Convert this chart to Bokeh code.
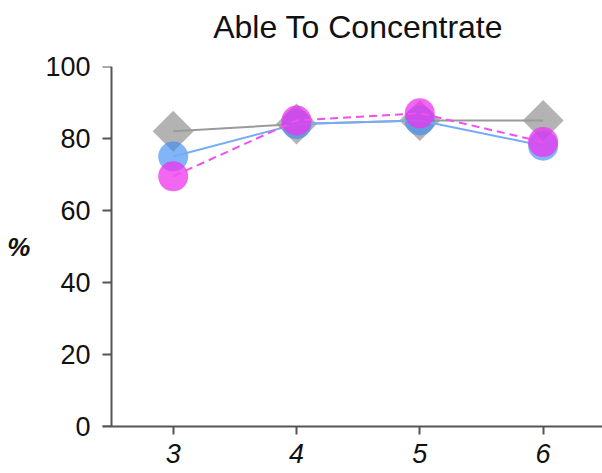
from bokeh.plotting import figure
from bokeh.models import LinearAxis, FixedTicker, Range1d, ColumnDataSource
from bokeh.embed import file_html
from bokeh.resources import INLINE
import numpy as np

# ---- data ----
grades = [3, 4, 5, 6]
tick_labels = ["3", "4", "5", "6"]
gray_vals = [82, 84, 85, 85]
blue_vals = [75, 84, 85, 78]
magenta_vals = [69.5, 85, 87, 79]
y_ticks = [0, 20, 40, 60, 80, 100]
title_text = "Able To Concentrate"
y_label = "%"

FONT = "Liberation Sans"

p = figure(width=602, height=473, output_backend="svg", toolbar_location=None,
           x_range=Range1d(2.4266, 6.4817), y_range=Range1d(0, 100),
           min_border_left=102, min_border_right=0, min_border_top=66, min_border_bottom=47,
           title=None)
p.outline_line_color = None
p.grid.visible = False
p.background_fill_color = "white"
p.border_fill_color = "white"

# x axis (the default one, below)
xa = p.below[0]
xa.ticker = FixedTicker(ticks=grades)
xa.major_label_overrides = {g: t for g, t in zip(grades, tick_labels)}
xa.major_label_text_font = FONT
xa.major_label_text_font_size = "27px"
xa.major_label_text_font_style = "italic"
xa.major_label_text_color = "#111111"
xa.major_label_standoff = 9
xa.major_tick_out = 8
xa.major_tick_in = 0
xa.minor_tick_out = 0
xa.minor_tick_in = 0
xa.axis_line_color = "#555555"
xa.axis_line_width = 2
xa.major_tick_line_color = "#555555"
xa.major_tick_line_width = 2

# y axis: labels only, at frame edge (the default one, left)
ya = p.left[0]
ya.ticker = FixedTicker(ticks=y_ticks)
ya.major_label_text_font = FONT
ya.major_label_text_font_size = "27px"
ya.major_label_text_color = "#111111"
ya.major_tick_out = 0
ya.major_tick_in = 0
ya.minor_tick_out = 0
ya.minor_tick_in = 0
ya.axis_line_color = None
ya.major_label_standoff = 12
ya.axis_label = y_label
ya.axis_label_orientation = "horizontal"
ya.axis_label_text_font = FONT
ya.axis_label_text_font_size = "26px"
ya.axis_label_text_font_style = "bold italic"
ya.axis_label_text_color = "#111111"
ya.axis_label_standoff = 12

# y axis line + ticks at a fixed location
ya2 = LinearAxis(fixed_location=2.5, ticker=FixedTicker(ticks=y_ticks))
ya2.major_label_text_font_size = "0px"
ya2.major_label_text_alpha = 0
ya2.major_tick_out = 10
ya2.major_tick_in = 0
ya2.minor_tick_out = 0
ya2.minor_tick_in = 0
ya2.axis_line_color = "#555555"
ya2.axis_line_width = 2
ya2.major_tick_line_color = "#555555"
ya2.major_tick_line_width = 2
p.add_layout(ya2, "left")

# title, centred over the middle of the grade range
title_pos = (grades[0] + grades[-1]) / 2
ta = LinearAxis(ticker=FixedTicker(ticks=[title_pos]))
ta.major_label_overrides = {title_pos: title_text}
ta.major_label_text_font = FONT
ta.major_label_text_font_size = "32px"
ta.major_label_text_font_style = "normal"
ta.major_label_text_color = "#111111"
ta.major_label_standoff = 22
ta.axis_line_color = None
ta.major_tick_out = 0
ta.major_tick_in = 0
ta.minor_tick_out = 0
ta.minor_tick_in = 0
p.add_layout(ta, "above")

src = ColumnDataSource(dict(x=grades, g=gray_vals, b=blue_vals, m=magenta_vals))

p.scatter("x", "g", source=src, marker="square", angle=np.pi / 4, size=29,
          fill_color="#808080", fill_alpha=0.6, line_color=None)
p.line("x", "g", source=src, line_color="#9a9a9a", line_width=2)
p.scatter("x", "b", source=src, marker="circle", size=30,
          fill_color="#3d8ef5", fill_alpha=0.65, line_color=None)
p.line("x", "b", source=src, line_color="#74acf5", line_width=2)
p.scatter("x", "m", source=src, marker="circle", size=30,
          fill_color="#ee33ee", fill_alpha=0.75, line_color=None)
p.line("x", "m", source=src, line_color="#f050f0", line_width=2, line_dash="8 5")

open("out.html", "w").write(file_html(p, INLINE))
